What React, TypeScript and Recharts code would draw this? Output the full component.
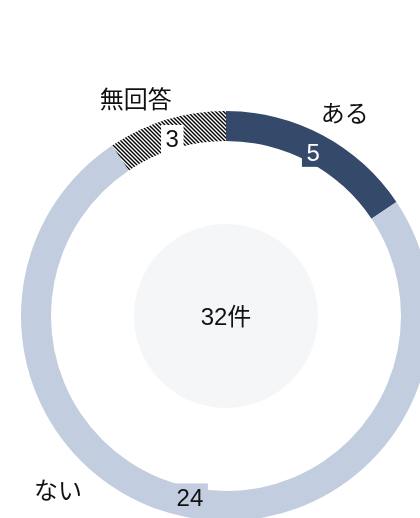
import React from "react";
import { PieChart, Pie, Cell } from "recharts";

const categories = ["ある", "ない", "無回答"];
const counts = [5, 24, 3];
const fills = ["#354a6b", "#c2cde0", "url(#hatch)"];
const unit = "件";

const data = categories.map((name, i) => ({ name, value: counts[i] }));
const total = counts.reduce((a, b) => a + b, 0);

const W = 420;
const H = 518;
const RADIAN = Math.PI / 180;
const FONT = '"Liberation Sans", Arial, "Noto Sans CJK JP", sans-serif';

function SliceLabel(props: any) {
  const { cx, cy, midAngle, innerRadius, outerRadius, index, value } = props;
  const fill = fills[index];
  const hatched = fill.startsWith("url");
  const dark = index === 0;
  const cos = Math.cos(-midAngle * RADIAN);
  const sin = Math.sin(-midAngle * RADIAN);

  // value label sits on the ring, boxed in the slice colour
  const rv = (innerRadius + outerRadius) / 2 - 5;
  const vx = cx + rv * cos;
  const vy = cy + rv * sin;
  const bw = String(value).length * 13.5 + 9;
  const bh = 28;

  // name label outside, slid along the circle to stay in view
  const rn = outerRadius + 30;
  let nx = cx + rn * cos;
  let ny = cy + rn * sin;
  const maxY = H - 28;
  if (ny > maxY) {
    const dy = maxY - cy;
    const dx = Math.sqrt(Math.max(rn * rn - dy * dy, 0));
    nx = cx + (cos < 0 ? -dx - 10 : dx);
    ny = maxY;
  } else {
    nx += cos < 0 ? -22 : 8;
    ny += cos < 0 ? 8 : 5;
  }

  return (
    <g>
      <rect
        x={vx - bw / 2}
        y={vy - bh / 2}
        width={bw}
        height={bh}
        fill={hatched ? "#ffffff" : fill}
      />
      <text
        x={vx}
        y={vy}
        textAnchor="middle"
        dominantBaseline="central"
        fontSize={24}
        fill={dark ? "#ffffff" : "#111111"}
      >
        {value}
      </text>
      <text
        x={nx}
        y={ny}
        textAnchor="middle"
        dominantBaseline="central"
        fontSize={24}
        fill="#111111"
      >
        {categories[index]}
      </text>
    </g>
  );
}

function CenterLabel(props: any) {
  return (
    <text
      x={props.cx}
      y={props.cy}
      textAnchor="middle"
      dominantBaseline="central"
      fontSize={24}
      fill="#111111"
    >
      {`${total}${unit}`}
    </text>
  );
}

export default function App() {
  return (
    <div
      style={{
        position: "fixed",
        left: 0,
        top: 0,
        width: W,
        height: H,
        overflow: "hidden",
        fontFamily: FONT,
      }}
    >
      <PieChart width={W} height={H} margin={{ top: 0, right: 0, bottom: 0, left: 0 }}>
        <defs>
          <pattern id="hatch" width={4} height={4} patternUnits="userSpaceOnUse">
            <rect width={4} height={4} fill="#ffffff" />
            <path
              d="M-1,-1 L5,5 M3,-1 L5,1 M-1,3 L1,5"
              stroke="#000000"
              strokeWidth={1.4}
            />
          </pattern>
        </defs>
        <Pie
          data={[{ name: "total", value: total }]}
          dataKey="value"
          cx={226}
          cy={316}
          innerRadius={0}
          outerRadius={92}
          fill="#f5f6f8"
          stroke="none"
          label={CenterLabel}
          labelLine={false}
          isAnimationActive={false}
        />
        <Pie
          data={data}
          dataKey="value"
          nameKey="name"
          cx={226}
          cy={316}
          innerRadius={175}
          outerRadius={205}
          startAngle={90}
          endAngle={-270}
          stroke="none"
          label={SliceLabel}
          labelLine={false}
          isAnimationActive={false}
        >
          {data.map((d, i) => (
            <Cell key={d.name} fill={fills[i]} />
          ))}
        </Pie>
      </PieChart>
    </div>
  );
}
